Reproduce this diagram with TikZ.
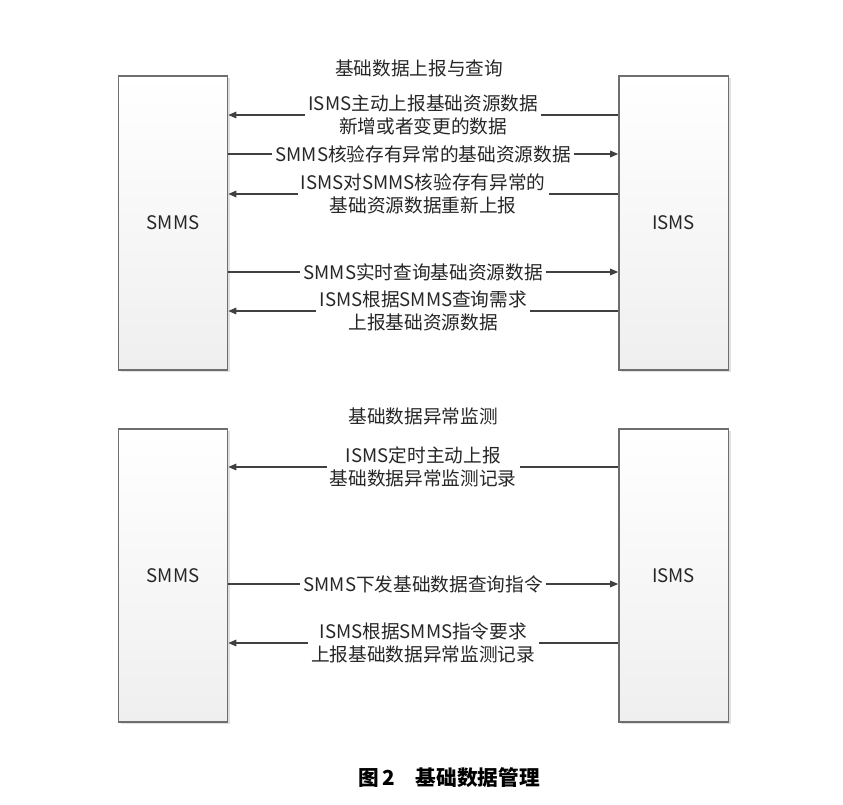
\documentclass[tikz,border=0pt]{standalone}
\usepackage{fontspec}
\setmainfont{Noto Sans CJK SC}
\usepackage{tikz}
\usetikzlibrary{positioning, arrows.meta, calc, shadows}
\usepackage{xcolor}
\definecolor{boxEdge}{HTML}{6E6E6E}
\definecolor{boxShade}{HTML}{EFEFEF}
\definecolor{lineGray}{HTML}{404040}
\definecolor{textDark}{HTML}{262626}

\tikzset{
  actor/.style={draw=boxEdge, line width=1pt, top color=white, bottom color=boxShade,
    drop shadow={shadow xshift=1.8pt, shadow yshift=-1.8pt, fill=black!12, opacity=1},
    minimum width=82pt, text=textDark},
  msg/.style={draw=lineGray, line width=0.8pt, -{Triangle[length=6pt, width=5pt]}},
  lbl/.style={fill=white, inner xsep=2.5pt, inner ysep=0pt, align=center, text=textDark},
  heading/.style={text=textDark},
}

\begin{document}
\begin{tikzpicture}[x=0.75pt, y=-0.75pt, font=\fontsize{14}{17.4}\selectfont]
  \useasboundingbox (0,0) rectangle (843,805);
  % Teilnehmer
  \node[actor, minimum height=220.5pt] (smmsA) at (173,223) {SMMS};
  \node[actor, minimum height=220.5pt] (ismsA) at (673.5,223) {ISMS};
  \node[actor, minimum height=219.75pt] (smmsB) at (173,575.5) {SMMS};
  \node[actor, minimum height=219.75pt] (ismsB) at (673.5,575.5) {ISMS};
  % Überschriften
  \node[heading] (titleA) at (419,68) {基础数据上报与查询};
  \node[heading] (titleB) at (423,416) {基础数据异常监测};
  % Nachrichtenhöhen
  \foreach \n/\h in {m1/115, m2/154, m3/194, m4/272, m5/311, n1/467, n2/584, n3/643} {
    \coordinate (\n) at (0,\h);
  }
  % Oberer Teil
  \draw[msg] (ismsA.west |- m1) -- node[lbl] {ISMS主动上报基础资源数据\\新增或者变更的数据} (smmsA.east |- m1);
  \draw[msg] (smmsA.east |- m2) -- node[lbl] {SMMS核验存有异常的基础资源数据} (ismsA.west |- m2);
  \draw[msg] (ismsA.west |- m3) -- node[lbl] {ISMS对SMMS核验存有异常的\\基础资源数据重新上报} (smmsA.east |- m3);
  \draw[msg] (smmsA.east |- m4) -- node[lbl] {SMMS实时查询基础资源数据} (ismsA.west |- m4);
  \draw[msg] (ismsA.west |- m5) -- node[lbl] {ISMS根据SMMS查询需求\\上报基础资源数据} (smmsA.east |- m5);
  % Unterer Teil
  \draw[msg] (ismsB.west |- n1) -- node[lbl] {ISMS定时主动上报\\基础数据异常监测记录} (smmsB.east |- n1);
  \draw[msg] (smmsB.east |- n2) -- node[lbl] {SMMS下发基础数据查询指令} (ismsB.west |- n2);
  \draw[msg] (ismsB.west |- n3) -- node[lbl] {ISMS根据SMMS指令要求\\上报基础数据异常监测记录} (smmsB.east |- n3);
  % Bildunterschrift
  \node[font=\fontsize{15.5}{18}\selectfont\bfseries, text=black] (caption) at (449,778) {图\,2\quad 基础数据管理};
\end{tikzpicture}
\end{document}
